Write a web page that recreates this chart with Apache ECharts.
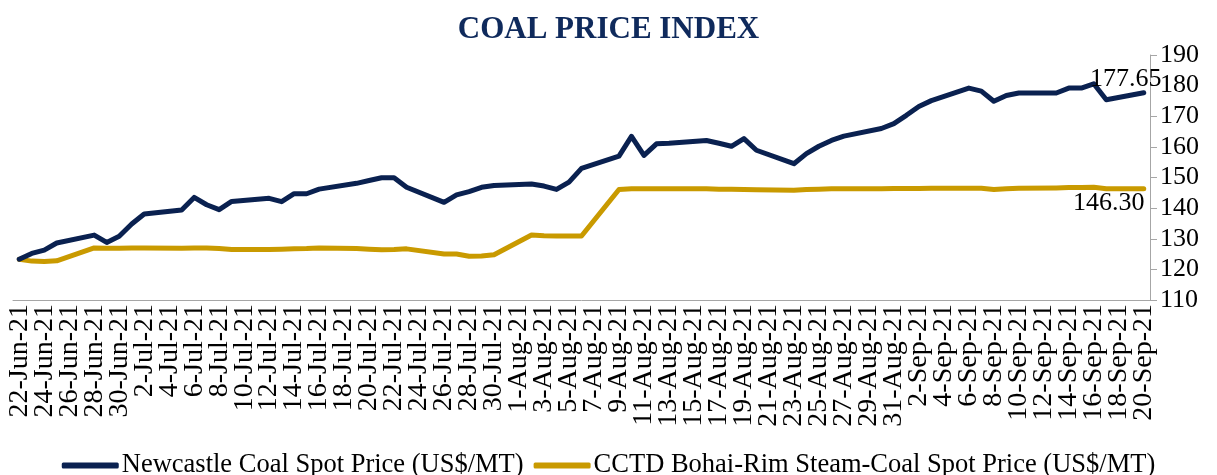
<!DOCTYPE html>
<html>
<head>
<meta charset="utf-8">
<script src="https://cdn.jsdelivr.net/npm/echarts@6/dist/echarts.min.js"></script>
<style>
html,body{margin:0;padding:0;background:#fff;}
#chart{width:1217px;height:475px;}
</style>
</head>
<body>
<div id="chart"></div>
<script>
// Daily calendar categories 22-Jun-21 .. 20-Sep-21 (weekends have no quote)
const months = ['Jan','Feb','Mar','Apr','May','Jun','Jul','Aug','Sep','Oct','Nov','Dec'];
const categories = [];
for (let d = new Date(2021, 5, 22); d <= new Date(2021, 8, 20); d.setDate(d.getDate() + 1)) {
  categories.push(d.getDate() + '-' + months[d.getMonth()] + '-21');
}

const seriesNames = ['Newcastle Coal Spot Price (US$/MT)', 'CCTD Bohai-Rim Steam-Coal Spot Price (US$/MT)'];

// Newcastle (null = weekend)
const newcastle = [
  123.3, 125.2, 126.3, 128.6, null, null,
  131.2, 128.8, 130.8, 134.8, 138.1, null, null,
  139.4, 143.5, 141.1, 139.5, 142.2, null, null,
  143.2, 142.1, 144.7, 144.7, 146.2, null, null,
  148.1, 149.0, 149.9, 149.9, 146.8, null, null,
  141.9, 144.3, 145.4, 146.8, 147.4, null, null,
  147.9, 147.2, 146.1, 148.5, 153.0, null, null,
  157.0, 163.4, 157.2, 161.0, 161.2, null, null,
  162.1, 161.2, 160.2, 162.7, 158.9, null, null,
  154.5, 157.8, 160.2, 162.1, 163.5, null, null,
  166.0, 167.6, 170.3, 173.2, 175.1, null, null,
  179.2, 178.2, 174.9, 176.8, 177.6, null, null,
  177.6, 179.2, 179.2, 180.6, 175.4, null, null,
  177.65
];

// CCTD Bohai-Rim (null = weekend)
const cctd = [
  123.3, 122.7, 122.6, 122.8, null, null,
  127.0, 126.9, 126.9, 127.0, 127.0, null, null,
  126.9, 127.0, 127.0, 126.8, 126.5, null, null,
  126.5, 126.6, 126.7, 126.8, 127.0, null, null,
  126.8, 126.6, 126.4, 126.5, 126.7, null, null,
  125.0, 125.0, 124.3, 124.4, 124.8, null, null,
  131.2, 131.0, 130.9, 130.9, 130.9, null, null,
  146.1, 146.3, 146.3, 146.3, 146.3, null, null,
  146.3, 146.2, 146.2, 146.1, 146.0, null, null,
  145.8, 146.1, 146.2, 146.3, 146.3, null, null,
  146.3, 146.4, 146.4, 146.4, 146.5, null, null,
  146.5, 146.5, 146.1, 146.3, 146.5, null, null,
  146.6, 146.7, 146.7, 146.8, 146.3, null, null,
  146.30
];

const yTicks = {min: 110, max: 190, interval: 10};
const colors = ['#0A2150', '#C99A00'];
const FONT = 'Liberation Serif';

function withLastLabel(arr, offset) {
  return arr.map((v, i) => i === arr.length - 1 ? {
    value: v,
    label: {show: true, position: 'inside', offset: offset, formatter: p => p.value.toFixed(2),
      fontFamily: FONT, fontSize: 26, color: '#000'}
  } : v);
}

const chart = echarts.init(document.getElementById('chart'));
chart.setOption({
  animation: false,
  title: {
    text: 'COAL PRICE INDEX', left: 'center', top: 9,
    textStyle: {fontFamily: FONT, fontWeight: 'bold', fontSize: 31, color: '#0F2A5C'}
  },
  legend: {
    data: seriesNames, left: 'center', top: 447, icon: 'roundRect',
    itemWidth: 57, itemHeight: 6, itemGap: 10,
    textStyle: {fontFamily: FONT, fontSize: 26.5, color: '#000', padding: [0,0,0,-2]}
  },
  grid: {left: 13, right: 67, top: 55, bottom: 175},
  xAxis: {
    type: 'category', data: categories, boundaryGap: true,
    axisLine: {lineStyle: {color: '#A6A6A6', width: 1}},
    axisTick: {interval: 1, length: 7, lineStyle: {color: '#A6A6A6'}},
    axisLabel: {interval: 0, rotate: 90, margin: 4, hideOverlap: false,
      showMinLabel: true, showMaxLabel: true,
      formatter: (v, i) => (i % 2 === 0 ? v : ''),
      fontFamily: FONT, fontSize: 28, color: '#000'}
  },
  yAxis: {
    type: 'value', position: 'right', min: yTicks.min, max: yTicks.max, interval: yTicks.interval,
    axisLine: {show: true, lineStyle: {color: '#A6A6A6', width: 1}},
    axisTick: {show: true, length: 7, lineStyle: {color: '#A6A6A6'}},
    splitLine: {show: false},
    axisLabel: {margin: 10, fontFamily: FONT, fontSize: 26, color: '#000'}
  },
  series: [
    {name: seriesNames[0], type: 'line', data: withLastLabel(newcastle, [-18, -14]), connectNulls: true,
     symbol: 'circle', symbolSize: 0.01, showSymbol: true, showAllSymbol: true, color: colors[0],
     lineStyle: {width: 5, color: colors[0], cap: 'round', join: 'round'}, z: 3},
    {name: seriesNames[1], type: 'line', data: withLastLabel(cctd, [-35, 14]), connectNulls: true,
     symbol: 'circle', symbolSize: 0.01, showSymbol: true, showAllSymbol: true, color: colors[1],
     lineStyle: {width: 5, color: colors[1], cap: 'round', join: 'round'}, z: 2}
  ]
});
</script>
</body>
</html>
